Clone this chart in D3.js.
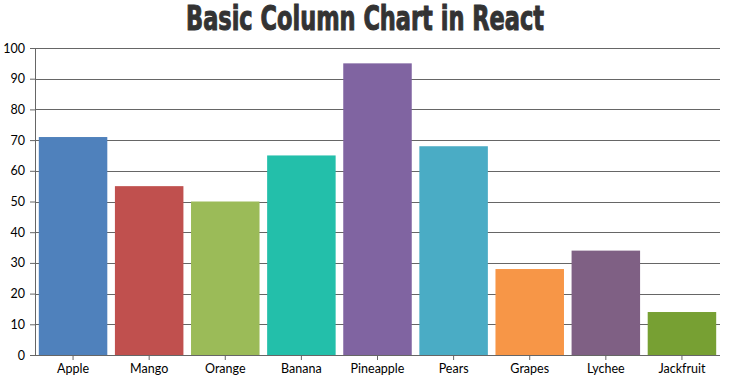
<!DOCTYPE html>
<html>
<head>
<meta charset="utf-8">
<script src="https://cdn.jsdelivr.net/npm/d3@7"></script>
<style>
  html, body { margin: 0; padding: 0; background: #fff; }
</style>
</head>
<body>
<div class="chart"></div>
<script>
// data
var fruits = ["Apple", "Mango", "Orange", "Banana", "Pineapple", "Pears", "Grapes", "Lychee", "Jackfruit"];
var amounts = [71, 55, 50, 65, 95, 68, 28, 34, 14];
var yTicks = [0, 10, 20, 30, 40, 50, 60, 70, 80, 90, 100];
var palette = ["#4F81BC", "#C0504E", "#9BBB58", "#23BFAA", "#8064A1", "#4AACC5", "#F79647", "#7F6084", "#77A033"];

const margin = {top: 48, right: 10, bottom: 30, left: 35};
const width = 730 - margin.left - margin.right,
    height = 385 - margin.top - margin.bottom;

var rows = fruits.map((f, i) => ({label: f, y: amounts[i]}));

const xScale = d3.scaleBand()
    .domain(fruits)
    .range([0, width])
    .paddingInner(0.1)
    .paddingOuter(0.05);

const yScale = d3.scaleLinear()
    .domain([0, 100])
    .range([height, 0]);

const scaleColor = d3.scaleOrdinal().domain(fruits).range(palette);

var svg = d3.select(".chart")
    .append("svg")
    .attr("width", 730)
    .attr("height", 385);

// title (no Impact here, so a condensed bold face with a thin stroke)
svg.append("text")
    .text("Basic Column Chart in React")
    .attr("x", 365)
    .attr("y", 30)
    .attr("text-anchor", "middle")
    .attr("font-family", "'DejaVu Sans Condensed', 'DejaVu Sans', sans-serif")
    .attr("font-weight", "bold")
    .attr("font-size", 33)
    .attr("textLength", 358)
    .attr("lengthAdjust", "spacingAndGlyphs")
    .attr("fill", "#333")
    .attr("stroke", "#333")
    .attr("stroke-width", 1);

var g = svg.append("g")
    .attr("transform", "translate(" + margin.left + "," + margin.top + ")");

// horizontal grid lines
g.append("g")
    .selectAll("line")
    .data(yTicks.filter(t => t > 0))
    .enter()
    .append("line")
    .attr("x1", 0)
    .attr("x2", width)
    .attr("y1", d => Math.round(yScale(d)) + 0.5)
    .attr("y2", d => Math.round(yScale(d)) + 0.5)
    .attr("stroke", "#666")
    .attr("stroke-width", 1);

g.selectAll("rect.bar")
    .data(rows)
    .enter()
    .append("rect")
    .attr("class", "bar")
    .attr("x", d => xScale(d.label))
    .attr("y", d => yScale(d.y))
    .attr("width", xScale.bandwidth())
    .attr("height", d => height - yScale(d.y))
    .attr("fill", d => scaleColor(d.label));

const yAxis = d3.axisLeft(yScale)
    .tickValues(yTicks)
    .tickSizeOuter(0)
    .tickSize(5)
    .tickPadding(5);

const xAxis = d3.axisBottom(xScale)
    .tickSizeOuter(0)
    .tickSize(5)
    .tickPadding(4);

var yAxisDisplay = g.append("g")
    .attr("class", "axis y-axis")
    .call(yAxis);

var xAxisDisplay = g.append("g")
    .attr("class", "axis x-axis")
    .attr("transform", `translate(0, ${height})`)
    .call(xAxis);

// x axis line also reaches under the y ticks
xAxisDisplay.select(".domain")
    .attr("d", "M-5,0.5H" + width);

svg.selectAll(".axis .domain, .axis line")
    .attr("stroke", "#666");

svg.selectAll(".axis text")
    .attr("font-family", "Lato, 'Open Sans', sans-serif")
    .attr("font-size", 12.5)
    .attr("fill", "#000");
</script>
</body>
</html>
